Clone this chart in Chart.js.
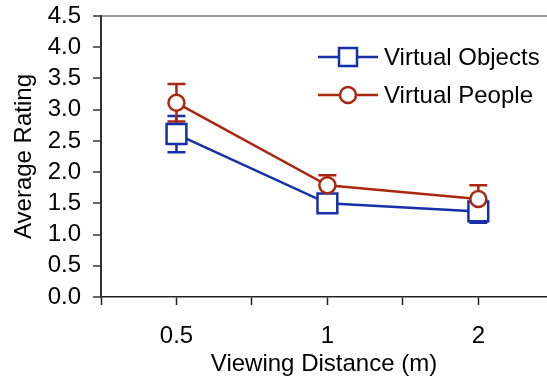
<!DOCTYPE html>
<html>
<head>
<meta charset="utf-8">
<script src="https://cdn.jsdelivr.net/npm/chart.js@4"></script>
<style>
  body { margin: 0; background: #fff; }
  #wrap { width: 547px; height: 377px; }
</style>
</head>
<body>
<div id="wrap"><canvas id="ratingChart"></canvas></div>
<script>
// viewing distances (m), one category per point
var distances = ['0.5', '1', '2'];
var objectsMean = [2.61, 1.50, 1.37];
var objectsErr = [0.29, 0.12, 0.18];
var peopleMean = [3.11, 1.79, 1.57];
var peopleErr = [0.30, 0.16, 0.22];
var yTicks = [0, 0.5, 1, 1.5, 2, 2.5, 3, 3.5, 4, 4.5];

var blue = '#1530a8';
var red = '#a82810';
var fontFamily = "'Liberation Sans', Arial, sans-serif";
var fontSize = 24;

function toPoints(values) {
    return values.map(function (v, i) { return { x: i, y: v }; });
}

// vertical error bars with caps, drawn under the markers
var errorBars = {
    id: 'errorBars',
    beforeDatasetsDraw: function (chart) {
        var ctx = chart.ctx;
        var xs = chart.scales.x, ys = chart.scales.y;
        chart.data.datasets.forEach(function (ds) {
            ctx.save();
            ctx.strokeStyle = ds.borderColor;
            ctx.lineWidth = 2.5;
            ds.data.forEach(function (p, i) {
                var px = xs.getPixelForValue(p.x);
                var top = ys.getPixelForValue(p.y + ds.errors[i]);
                var bot = ys.getPixelForValue(p.y - ds.errors[i]);
                ctx.beginPath();
                ctx.moveTo(px, top); ctx.lineTo(px, bot);
                ctx.moveTo(px - 9, top); ctx.lineTo(px + 9, top);
                ctx.moveTo(px - 9, bot); ctx.lineTo(px + 9, bot);
                ctx.stroke();
            });
            ctx.restore();
        });
    }
};

// legend with line + marker, placed inside the plot
var insideLegend = {
    id: 'insideLegend',
    afterDraw: function (chart) {
        var ctx = chart.ctx;
        var area = chart.chartArea;
        chart.data.datasets.forEach(function (ds, i) {
            var x0 = area.left + 217, x1 = area.left + 277;
            var y = area.top + 41 + i * 38;
            var cx = (x0 + x1) / 2;
            ctx.save();
            ctx.strokeStyle = ds.borderColor;
            ctx.lineWidth = 2.5;
            ctx.beginPath();
            ctx.moveTo(x0, y); ctx.lineTo(x1, y);
            ctx.stroke();
            ctx.fillStyle = '#fff';
            ctx.beginPath();
            if (ds.pointStyle === 'rect') {
                ctx.rect(cx - 9, y - 9, 18, 18);
            } else {
                ctx.arc(cx, y, 8, 0, Math.PI * 2);
            }
            ctx.fill();
            ctx.stroke();
            ctx.fillStyle = '#000';
            ctx.font = fontSize + 'px ' + fontFamily;
            ctx.textBaseline = 'middle';
            ctx.fillText(ds.label, x1 + 6, y + 1);
            ctx.restore();
        });
    }
};

var ctx = document.getElementById('ratingChart').getContext('2d');
var ratingChart = new Chart(ctx, {
    type: 'line',
    data: {
        datasets: [{
            label: 'Virtual Objects',
            data: toPoints(objectsMean),
            errors: objectsErr,
            borderColor: blue,
            backgroundColor: '#fff',
            borderWidth: 2.5,
            pointStyle: 'rect',
            pointRadius: 14,
            pointBorderWidth: 2.5,
            order: 2
        }, {
            label: 'Virtual People',
            data: toPoints(peopleMean),
            errors: peopleErr,
            borderColor: red,
            backgroundColor: '#fff',
            borderWidth: 2.5,
            pointStyle: 'circle',
            pointRadius: 8,
            pointBorderWidth: 2.5,
            order: 1
        }]
    },
    options: {
        responsive: true,
        maintainAspectRatio: false,
        animation: false,
        layout: { autoPadding: false, padding: { top: 16, right: 0, left: 0, bottom: 0 } },
        plugins: { legend: { display: false }, tooltip: { enabled: false } },
        scales: {
            x: {
                type: 'linear',
                min: -0.5,
                max: 2.455,
                afterBuildTicks: function (scale) {
                    scale.ticks = [-0.5, 0, 0.5, 1, 1.5, 2].map(function (v) { return { value: v }; });
                },
                afterFit: function (scale) {
                    scale.height = 80;
                    scale.paddingLeft = 0;
                    scale.paddingRight = 0;
                },
                border: { color: '#222', width: 1.5 },
                grid: { color: 'transparent', tickColor: '#222', tickLength: 8, tickWidth: 1.5 },
                ticks: {
                    color: '#000',
                    padding: 17,
                    maxRotation: 0,
                    autoSkip: false,
                    font: { size: fontSize, family: fontFamily },
                    callback: function (v) {
                        return Number.isInteger(v) && distances[v] !== undefined ? distances[v] : '';
                    }
                },
                title: {
                    display: true,
                    text: 'Viewing Distance (m)',
                    color: '#000',
                    padding: { top: 0, bottom: 0 },
                    font: { size: fontSize, family: fontFamily, lineHeight: 1.05 }
                }
            },
            y: {
                min: 0,
                max: 4.5,
                afterBuildTicks: function (scale) {
                    scale.ticks = yTicks.map(function (v) { return { value: v }; });
                },
                afterFit: function (scale) {
                    scale.width = 101;
                    scale.paddingTop = 0;
                    scale.paddingBottom = 0;
                },
                border: { color: '#333', width: 2 },
                grid: {
                    color: function (c) { return c.tick && c.tick.value === 4.5 ? '#9a9a9a' : 'transparent'; },
                    lineWidth: 2,
                    tickColor: '#333',
                    tickLength: 8,
                    tickWidth: 1.5
                },
                ticks: {
                    color: '#000',
                    padding: 12,
                    autoSkip: false,
                    font: { size: fontSize, family: fontFamily },
                    callback: function (v) { return v.toFixed(1); }
                },
                title: {
                    display: true,
                    text: 'Average Rating',
                    color: '#000',
                    padding: { top: 10, bottom: 0 },
                    font: { size: fontSize, family: fontFamily }
                }
            }
        }
    },
    plugins: [errorBars, insideLegend]
});
</script>
</body>
</html>
